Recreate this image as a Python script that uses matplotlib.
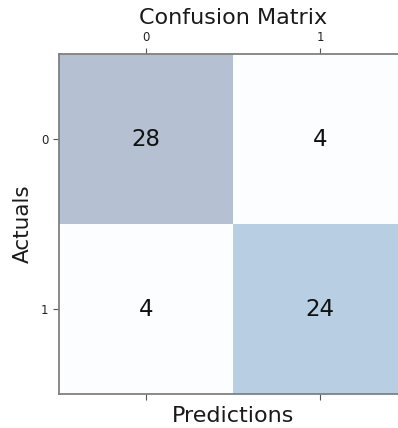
import numpy as np
import matplotlib
matplotlib.use('Agg')
import matplotlib.pyplot as plt

# Confusion matrix values (rows = actuals, cols = predictions)
class_labels = ['0', '1']
conf_matrix = np.array([[28, 4],
                        [4, 24]])

fig = plt.figure(figsize=(3.98, 4.28), dpi=100)
# axes spans past the right edge like the reference crop
ax = fig.add_axes([59 / 398, (428 - 394) / 428, 348 / 398, 340 / 428])
ax.matshow(conf_matrix, cmap=plt.cm.Blues, alpha=0.3, aspect='auto')

for i in range(conf_matrix.shape[0]):
    for j in range(conf_matrix.shape[1]):
        ax.text(x=j, y=i, s=conf_matrix[i, j], va='center', ha='center',
                fontsize=16.5, color='#111111')

ax.set_xticks(range(len(class_labels)))
ax.set_yticks(range(len(class_labels)))
ax.set_xticklabels(class_labels, fontsize=8.5)
ax.set_yticklabels(class_labels, fontsize=8.5)
ax.tick_params(colors='#555555', labelcolor='#222222', length=4)
for s in ax.spines.values():
    s.set_color('#808080')
    s.set_linewidth(1.3)
ax.spines['right'].set_visible(False)

ax.xaxis.set_label_position('bottom')
ax.set_xlabel('Predictions', fontsize=16, color='#1a1a1a', labelpad=5)
ax.set_ylabel('Actuals', fontsize=15.5, color='#1a1a1a', labelpad=6)
ax.set_title('Confusion Matrix', fontsize=16, color='#1a1a1a', y=1.087, pad=0)

fig.savefig('out.png', dpi=100)
